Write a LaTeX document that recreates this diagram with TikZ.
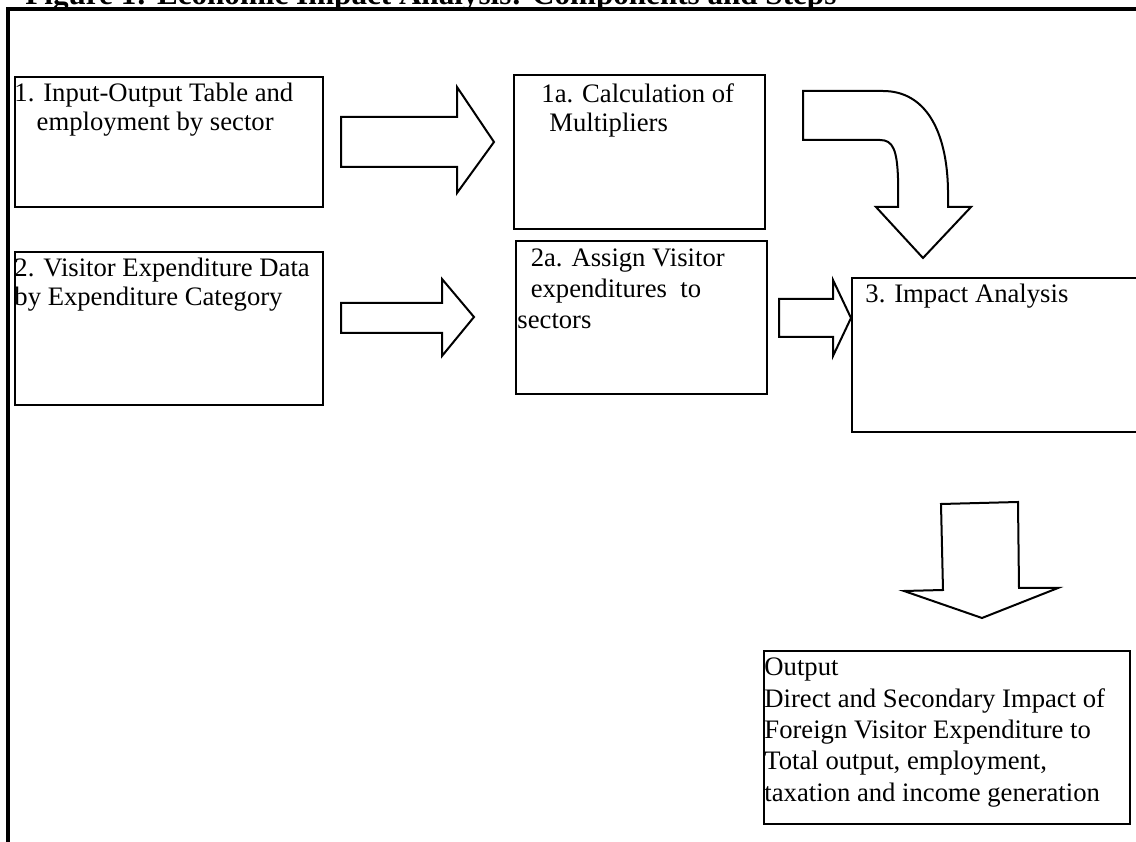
\documentclass[tikz,border=0pt]{standalone}
\usepackage{fontspec}
\setmainfont{Liberation Serif}

\begin{document}
\begin{tikzpicture}[x=0.45pt, y=-0.45pt,
    box/.style={draw, line width=0.9pt, anchor=north west, inner sep=0pt},
    txt/.style={anchor=base west, inner sep=0pt, align=left, font=\fontsize{12}{13.2}\selectfont},
    wide/.style={txt, font=\fontsize{12}{14.1}\selectfont},
    blk/.style={draw, line width=0.9pt, line join=miter},
    frame/.style={line width=1.4pt}
    ]
    \useasboundingbox (0,0) rectangle (1136,842);
    \clip (0,0) rectangle (1136,842);

    \node[anchor=base west, inner sep=0pt, font=\bfseries\fontsize{14}{16}\selectfont] (title) at (25,5)
        {Figure 1: Economic Impact Analysis: Components and Steps};
    \draw[frame] (8,842) -- (8,9) -- (1136,9);

    % boxes
    \node[box, minimum width=138.6pt, minimum height=58.5pt] (tab) at (14,76) {};
    \node[box, minimum width=138.6pt, minimum height=68.85pt] (spend) at (14,251) {};
    \node[box, minimum width=112.95pt, minimum height=69.3pt] (mult) at (513,74) {};
    \node[box, minimum width=112.95pt, minimum height=68.85pt] (assign) at (515,240) {};
    \node[box, minimum width=139.5pt, minimum height=69.3pt] (impact) at (851,277) {};
    \node[box, minimum width=164.7pt, minimum height=77.85pt] (out) at (763,650) {};

    % texts, anchored at the last baseline
    \node[txt] (tab-txt) at (14,131) {1. Input-Output Table and\\\hspace{10pt}employment by sector};
    \node[txt] (spend-txt) at (14,306) {2. Visitor Expenditure Data\\by Expenditure Category};
    \node[txt] (mult-txt) at (541,132) {1a. Calculation of\\\hspace{3.6pt}Multipliers};
    \node[wide] (assign-txt) at (517,329) {\hspace{6pt}2a. Assign Visitor\\\hspace{6pt}expenditures\ \ to\\sectors};
    \node[txt] (impact-txt) at (865,303) {3. Impact Analysis};
    \node[wide] (out-txt) at (764,801) {Output\\Direct and Secondary Impact of\\Foreign Visitor Expenditure to\\Total output, employment,\\taxation and income generation};

    % block arrows
    \draw[blk] (341,117) -- (457,117) -- (457,87) -- (494,142) -- (457,193) -- (457,167) -- (341,167) -- cycle;
    \draw[blk] (341,303) -- (442,303) -- (442,279) -- (474,317) -- (442,356) -- (442,333) -- (341,333) -- cycle;
    \draw[blk] (779,299) -- (833,299) -- (833,280) -- (851,318) -- (833,356) -- (833,337) -- (779,337) -- cycle;
    \draw[blk] (803,91) -- (883,91) .. controls (925,91) and (947,130) .. (948,190) -- (948,207)
        -- (971,207) -- (923,258) -- (876,207) -- (898,207) -- (898,178)
        .. controls (897,150) and (893,140) .. (880,140) -- (803,140) -- cycle;
    \draw[blk] (941,504) -- (1018,502) -- (1019,588) -- (1058,588) -- (982,618) -- (904,591) -- (943,590) -- cycle;
\end{tikzpicture}
\end{document}
